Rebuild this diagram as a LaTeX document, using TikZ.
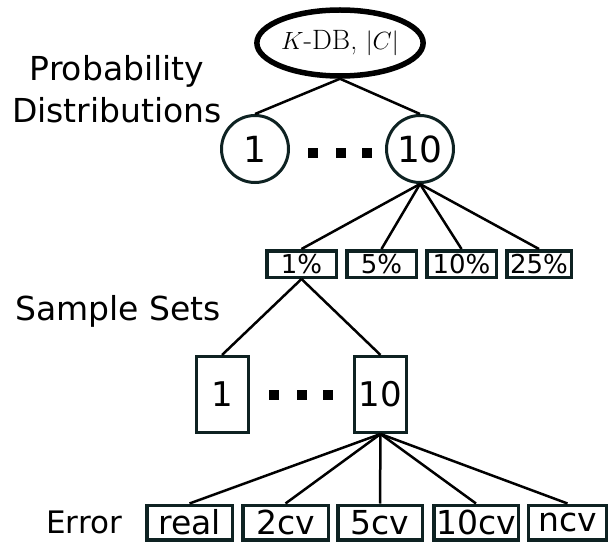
\documentclass[tikz,border=0pt]{standalone}
\usepackage{fontspec}
\setsansfont{DejaVu Sans}
\usetikzlibrary{shapes.geometric}
\definecolor{boxline}{RGB}{14,34,34}
\tikzset{
      rootnode/.style={
        ellipse,
        draw=black,
        line width=5.5pt,
        minimum width=158pt,
        minimum height=66pt,
        inner sep=0pt,
        font=\rmfamily\fontsize{28}{32}\selectfont
      },
      distnode/.style={
        circle,
        draw=boxline,
        line width=3pt,
        minimum size=67pt,
        inner sep=0pt,
        font=\sffamily\fontsize{36}{42}\selectfont
      },
      pctbox/.style={
        draw=boxline,
        line width=3.5pt,
        minimum width=69.5pt,
        minimum height=26.5pt,
        inner sep=0pt,
        font=\sffamily\fontsize{26}{30}\selectfont
      },
      setbox/.style={
        draw=boxline,
        line width=3pt,
        minimum width=52pt,
        minimum height=76pt,
        inner sep=0pt,
        font=\sffamily\fontsize{34}{40}\selectfont
      },
      errbox/.style={
        draw=boxline,
        line width=3.5pt,
        minimum width=85.5pt,
        minimum height=34.5pt,
        inner sep=0pt,
        font=\sffamily\fontsize{33}{38}\selectfont
      },
      levellabel/.style={
        align=center,
        font=\sffamily\fontsize{33}{42}\selectfont
      },
      dotsq/.style={fill=black, minimum size=10.5pt, inner sep=0pt},
      link/.style={line width=2.5pt}
    }

\begin{document}
\begin{tikzpicture}[x=1pt,y=-1pt]
    \useasboundingbox (0,0) rectangle (610,548);
    % tree levels
    \node[rootnode] (root) at (340,43) {$K$-DB, $|C|$};
    \node[distnode] (d1) at (255,149) {1};
    \node[distnode] (d10) at (420,149) {10};
    \node[pctbox] (p1) at (301.5,264) {1\%};
    \node[pctbox] (p5) at (381.5,264) {5\%};
    \node[pctbox] (p10) at (461.5,264) {10\%};
    \node[pctbox, minimum width=64.5pt] (p25) at (539,264) {25\%};
    \node[setbox] (s1) at (222,394.5) {1};
    \node[setbox] (s10) at (380.5,394.5) {10};
    \node[errbox] (real) at (189.5,522.5) {real};
    \node[errbox] (cv2) at (285.5,522.5) {2cv};
    \node[errbox, minimum width=84.5pt] (cv5) at (380,522.5) {5cv};
    \node[errbox, minimum width=84.5pt] (cv10) at (476,522.5) {10cv};
    \node[errbox, minimum width=78pt] (ncv) at (567.5,522.5) {ncv};
    % dots
    \foreach \x/\n in {313/a,341/b,367/c} \node[dotsq] (dd\n) at (\x,153) {};
    \foreach \x/\n in {274/a,302/b,328/c} \node[dotsq] (sd\n) at (\x,395) {};
    % level labels
    \node[levellabel] (lprob) at (117,89) {Probability\\Distributions};
    \node[levellabel, anchor=base] (lsample) at (118,320) {Sample Sets};
    \node[levellabel, anchor=base, font=\sffamily\fontsize{31}{36}\selectfont] (lerr) at (84,533) {Error};
    % links
    \draw[link] (root.south) -- (d1.north);
    \draw[link] (root.south) -- (d10.north);
    \draw[link] (d10.south) -- (p1.north);
    \draw[link] (d10.south) -- (p5.north);
    \draw[link] (d10.south) -- (p10.north);
    \draw[link] (d10.south) -- (p25.north);
    \draw[link] (p1.south) -- (s1.north);
    \draw[link] (p1.south) -- (s10.north);
    \draw[link] (s10.south) -- (real.north);
    \draw[link] (s10.south) -- (cv2.north);
    \draw[link] (s10.south) -- (cv5.north);
    \draw[link] (s10.south) -- (cv10.north);
    \draw[link] (s10.south) -- (ncv.north);
    \end{tikzpicture}
\end{document}
